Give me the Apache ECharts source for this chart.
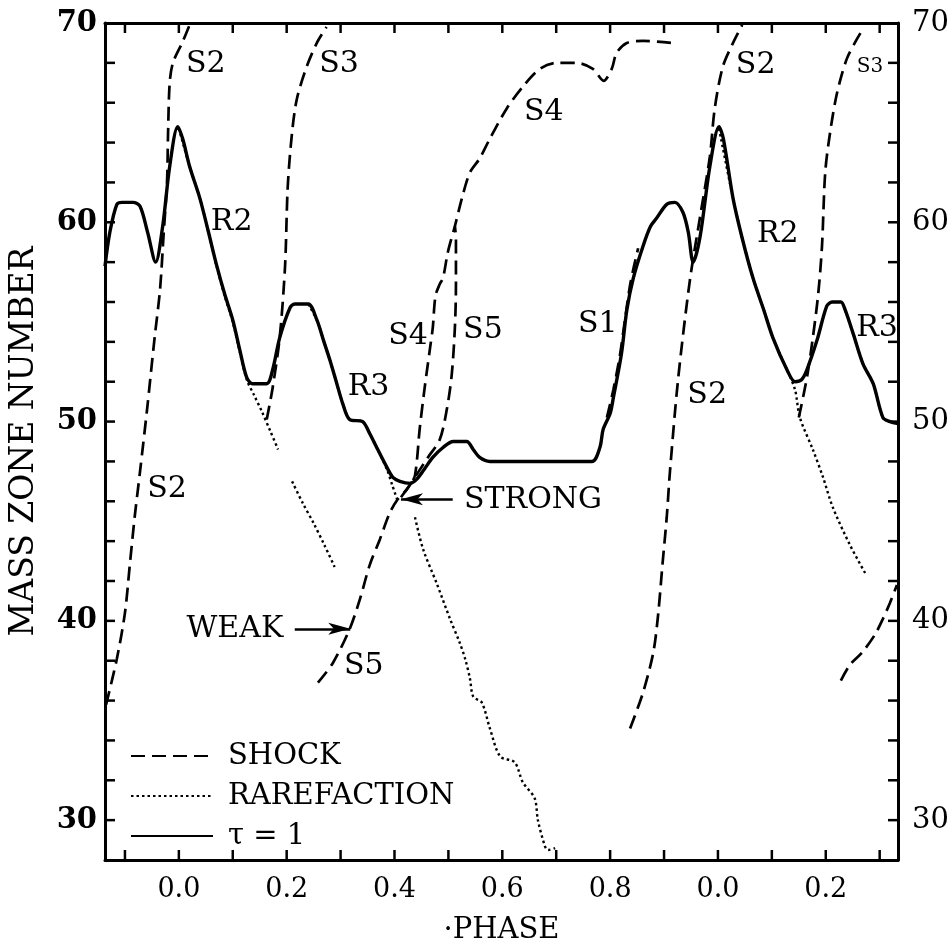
<!DOCTYPE html>
<html>
<head>
<meta charset="utf-8">
<script src="https://cdn.jsdelivr.net/npm/echarts@6/dist/echarts.min.js"></script>
<style>
  html, body { margin: 0; padding: 0; background: #fff; }
  #chart { width: 952px; height: 950px; }
</style>
</head>
<body>
<div id="chart"></div>
<script>
  // axis ticks / labels
  var xTicks = [-0.1, 0, 0.1, 0.2, 0.3, 0.4, 0.5, 0.6, 0.7, 0.8, 0.9, 1.0, 1.1, 1.2, 1.3]
  var xLabelVals = [0, 0.2, 0.4, 0.6, 0.8, 1.0, 1.2]
  var yTicks = [30, 32, 34, 36, 38, 40, 42, 44, 46, 48, 50, 52, 54, 56, 58, 60, 62, 64, 66, 68]
  var yLabelVals = [30, 40, 50, 60, 70]

  // tau = 1 surface  [phase, mass zone]
  var tau1 = [[-0.137,57.8],[-0.128,59.5],[-0.115,60.9],[-0.105,61.0],[-0.085,61.0],[-0.072,60.8],[-0.058,59.5],[-0.043,58.0],
    [-0.030,59.8],[-0.017,62.8],[-0.002,64.8],[0.007,64.2],[0.020,62.8],[0.039,61.2],[0.055,59.5],[0.070,57.85],[0.085,56.4],
    [0.100,55.1],[0.113,53.6],[0.126,52.2],[0.137,51.9],[0.163,51.9],[0.174,52.6],[0.187,54.2],[0.206,55.7],[0.215,55.9],
    [0.240,55.9],[0.256,55.1],[0.268,54.1],[0.280,53.1],[0.292,52.0],[0.304,50.9],[0.317,50.1],[0.341,50.0],[0.354,49.4],
    [0.367,48.7],[0.386,47.7],[0.397,47.2],[0.410,47.0],[0.429,46.9],[0.441,47.1],[0.455,47.6],[0.471,48.2],[0.490,48.7],
    [0.509,49.0],[0.534,49.0],[0.546,48.6],[0.558,48.2],[0.577,48.0],[0.766,48.0],[0.781,48.7],[0.787,49.6],[0.800,50.4],
    [0.806,51.2],[0.821,53.4],[0.831,55.6],[0.843,57.2],[0.861,58.8],[0.875,59.8],[0.886,60.2],[0.905,60.9],[0.920,61.0],
    [0.935,60.5],[0.945,59.5],[0.954,58.0],[0.967,59.3],[0.985,62.8],[1.002,64.8],[1.010,64.2],[1.028,61.2],[1.045,59.2],
    [1.065,57.2],[1.085,55.6],[1.102,54.2],[1.128,52.6],[1.143,52.0],[1.155,52.1],[1.165,52.6],[1.184,54.1],[1.202,55.8],
    [1.212,56.0],[1.228,56.0],[1.236,55.6],[1.251,54.4],[1.269,52.9],[1.288,51.9],[1.306,50.2],[1.319,50.0],[1.334,49.9]]

  // shocks
  var shockS2a = [[-0.135,35.8],[-0.115,38.1],[-0.100,40.4],[-0.091,42.8],[-0.082,45.2],[-0.072,47.5],[-0.059,50.6],[-0.045,54.2],
    [-0.035,56.6],[-0.028,59.5],[-0.022,62.0],[-0.020,64.5],[-0.017,67.0],[-0.011,68.0],[0.006,69.0],[0.020,69.9]]
  var shockS3a = [[0.163,50.1],[0.174,51.7],[0.187,54.2],[0.197,57.8],[0.202,61.8],[0.210,64.5],[0.219,66.2],[0.237,67.8],[0.256,69.0],[0.274,69.8]]
  var shockS5 = [[0.258,36.9],[0.286,37.9],[0.317,39.6],[0.336,41.1],[0.354,42.8],[0.373,44.1],[0.391,45.4],[0.406,46.1],[0.423,46.6],
    [0.440,47.3],[0.462,48.2],[0.484,49.1],[0.497,50.6],[0.506,52.3],[0.512,54.7],[0.514,56.9],[0.514,59.2],[0.512,59.8]]
  var shockS4 = [[0.412,46.2],[0.428,46.8],[0.438,47.3],[0.447,49.7],[0.456,51.7],[0.466,53.7],[0.471,54.7],[0.476,56.3],[0.484,56.9],
    [0.490,57.2],[0.499,58.5],[0.512,59.8],[0.525,61.2],[0.540,62.5],[0.558,63.2],[0.577,64.2],[0.608,65.7],[0.638,66.8],[0.670,67.7],
    [0.701,68.0],[0.738,68.0],[0.768,67.7],[0.788,67.1],[0.803,67.7],[0.812,68.5],[0.831,69.0],[0.861,69.1],[0.915,69.0]]
  var shockS1 = [[0.794,50.2],[0.806,51.6],[0.818,53.3],[0.828,55.2],[0.838,57.0],[0.852,58.7]]
  var shockS2b = [[0.837,34.6],[0.861,36.4],[0.880,38.4],[0.889,40.3],[0.897,42.8],[0.905,45.2],[0.911,47.5],[0.926,52.1],[0.948,57.1],
    [0.967,60.3],[0.985,63.3],[0.994,65.7],[1.009,67.8],[1.028,69.0],[1.045,69.9]]
  var shockS3b = [[1.150,50.2],[1.165,52.2],[1.176,54.2],[1.186,56.4],[1.193,58.8],[1.199,62.5],[1.208,64.5],[1.221,66.5],[1.239,68.2],[1.258,69.2],[1.269,69.7]]
  var shockS5b = [[1.228,37.0],[1.245,37.8],[1.267,38.4],[1.291,39.3],[1.306,40.1],[1.319,40.9],[1.332,41.8]]

  // rarefactions
  var rareR2a = [[0.000,64.7],[0.020,62.8],[0.039,61.2],[0.055,59.5],[0.070,57.8],[0.085,56.3],[0.100,55.0],[0.113,53.5],[0.126,52.1],
    [0.140,51.3],[0.154,50.5],[0.170,49.5],[0.184,48.6]]
  var rareR2b = [[0.210,47.0],[0.230,45.9],[0.250,44.9],[0.270,43.8],[0.289,42.7]]
  var rareR3a = [[0.240,55.9],[0.256,55.1],[0.268,54.1],[0.280,53.1],[0.292,52.0],[0.304,50.9],[0.317,50.1],[0.341,50.0],[0.354,49.4],
    [0.367,48.7],[0.386,47.6],[0.396,46.8],[0.406,46.0]]
  var rareR3b = [[0.438,45.2],[0.453,43.6],[0.478,41.9],[0.503,40.1],[0.521,38.9],[0.531,38.1],[0.540,37.1],[0.546,36.2],[0.562,35.9],
    [0.577,34.6],[0.596,33.2],[0.623,32.9],[0.638,31.9],[0.660,31.1],[0.666,30.0],[0.679,28.7],[0.685,28.5],[0.698,28.6]]
  var rareR2c = [[1.002,64.7],[1.028,61.2],[1.045,59.2],[1.065,57.2],[1.085,55.6],[1.102,54.2],[1.128,52.6],[1.143,51.6],[1.152,50.2],
    [1.176,48.6],[1.195,47.2],[1.213,45.7],[1.245,43.8],[1.273,42.4]]
  var rareR3c = [[1.236,55.6],[1.251,54.4],[1.269,52.9],[1.288,51.9],[1.306,50.2],[1.319,50.0]]

  // curve labels [text, phase, zone, size]
  var curveLabels = [['S2',0.050,67.95,30],['S3',0.297,67.95,30],['R2',0.098,60.0,30],['R3',0.352,51.7,30],['S4',0.425,54.3,30],
    ['S5',0.564,54.6,30],['S4',0.677,65.5,30],['S1',0.777,54.9,30],['S2',1.070,67.9,30],['S3',1.282,67.8,20],['R2',1.111,59.4,30],
    ['S2',0.980,51.3,30],['R3',1.295,54.7,30],['S2',-0.022,46.6,30],['WEAK',0.104,39.6,30],['S5',0.343,37.7,30],['STRONG',0.657,46.05,30]]
  // arrows [fromPhase, fromZone, toPhase, toZone]
  var arrows = [[0.215,39.6,0.318,39.6],[0.508,46.1,0.412,46.1]]

  var FONT = 'DejaVu Serif'
  var shockStyle = { color: '#000', width: 2.7, type: [14, 7] }
  var rareStyle = { color: '#000', width: 2.4, type: [2.5, 3] }

  function curve(name, data, style) {
    return {
      name: name,
      type: 'line',
      data: data,
      symbol: 'none',
      smooth: 0.3,
      lineStyle: style,
      itemStyle: { color: '#000' },
      silent: true
    }
  }

  var series = []
  ;[shockS2a, shockS3a, shockS5, shockS4, shockS1, shockS2b, shockS3b, shockS5b].forEach(function (d) {
    series.push(curve('SHOCK', d, shockStyle))
  })
  ;[rareR2a, rareR2b, rareR3a, rareR3b, rareR2c, rareR3c].forEach(function (d) {
    series.push(curve('RAREFACTION', d, rareStyle))
  })
  series.push(curve('τ = 1', tau1, { color: '#000', width: 3.4, type: 'solid' }))

  series.push({
    name: 'labels',
    type: 'scatter',
    symbol: 'circle',
    symbolSize: 1,
    itemStyle: { color: 'rgba(0,0,0,0)', opacity: 1 },
    silent: true,
    data: curveLabels.map(function (l) {
      return {
        value: [l[1], l[2]],
        name: l[0],
        label: { fontSize: l[3] }
      }
    }),
    label: {
      show: true,
      position: 'inside',
      formatter: function (p) { return p.name },
      color: '#000',
      opacity: 1,
      textBorderWidth: 0,
      fontFamily: FONT
    },
    markLine: {
      silent: true,
      symbol: ['none', 'arrow'],
      symbolSize: [9, 22],
      label: { show: false },
      lineStyle: { color: '#000', width: 2.5, type: 'solid', opacity: 1 },
      data: arrows.map(function (a) {
        return [{ coord: [a[0], a[1]] }, { coord: [a[2], a[3]] }]
      })
    }
  })

  // tick marks drawn from the tick arrays (inside, on all four sides)
  var tickLen = 10
  function tickSeries(data, size, offset) {
    return {
      type: 'scatter',
      silent: true,
      data: data,
      symbol: 'rect',
      symbolSize: size,
      symbolOffset: offset,
      itemStyle: { color: '#000', opacity: 1 },
      z: 5
    }
  }
  series.push(
    tickSeries(xTicks.map(function (v) { return [v, 28] }), [2.5, tickLen], [0, -tickLen / 2]),
    tickSeries(xTicks.map(function (v) { return [v, 70] }), [2.5, tickLen], [0, tickLen / 2]),
    tickSeries(yTicks.map(function (v) { return [-0.137, v] }), [tickLen, 2.5], [tickLen / 2, 0]),
    tickSeries(yTicks.map(function (v) { return [1.334, v] }), [tickLen, 2.5], [-tickLen / 2, 0])
  )

  function xAxisBase(pos) {
    return {
      type: 'value',
      position: pos,
      min: -0.137,
      max: 1.334,
      axisLine: { onZero: false, lineStyle: { color: '#000', width: 3 } },
      axisTick: { show: false },
      splitLine: { show: false }
    }
  }
  function yAxisBase(pos) {
    return {
      type: 'value',
      position: pos,
      min: 28,
      max: 70,
      axisLine: { onZero: false, lineStyle: { color: '#000', width: 3 } },
      axisTick: { show: false },
      axisLabel: { customValues: yLabelVals, color: '#000', fontFamily: FONT, fontSize: 29, margin: pos === 'left' ? 8 : 14 },
      splitLine: { show: false }
    }
  }

  var xBottom = xAxisBase('bottom')
  xBottom.axisLabel = {
    customValues: xLabelVals,
    color: '#000',
    fontFamily: FONT,
    fontSize: 27,
    margin: 16,
    formatter: function (v) { return (((v % 1) + 1) % 1).toFixed(1) }
  }
  xBottom.name = '·PHASE'
  xBottom.nameLocation = 'middle'
  xBottom.nameGap = 56
  xBottom.nameTextStyle = { color: '#000', fontFamily: FONT, fontSize: 29 }

  var xTop = xAxisBase('top')
  xTop.axisLabel = { show: false }

  var yLeft = yAxisBase('left')
  yLeft.axisLabel.fontWeight = 'bold'
  yLeft.name = 'MASS ZONE NUMBER'
  yLeft.nameLocation = 'middle'
  yLeft.nameGap = 64
  yLeft.nameTextStyle = { color: '#000', fontFamily: FONT, fontSize: 33 }
  var yRight = yAxisBase('right')

  var chart = echarts.init(document.getElementById('chart'), null, { renderer: 'canvas' })
  chart.setOption({
    animation: false,
    backgroundColor: '#fff',
    grid: { left: 105, right: 54, top: 23, bottom: 83, containLabel: false },
    legend: {
      data: ['SHOCK', 'RAREFACTION', 'τ = 1'],
      orient: 'vertical',
      left: 125,
      top: 736,
      itemWidth: 82,
      itemHeight: 14,
      itemGap: 10,
      selectedMode: false,
      itemStyle: { opacity: 0 },
      textStyle: { color: '#000', fontFamily: FONT, fontSize: 29, lineHeight: 30, padding: [0, 0, 0, 10] }
    },
    xAxis: [xBottom, xTop],
    yAxis: [yLeft, yRight],
    series: series
  })
</script>
</body>
</html>
